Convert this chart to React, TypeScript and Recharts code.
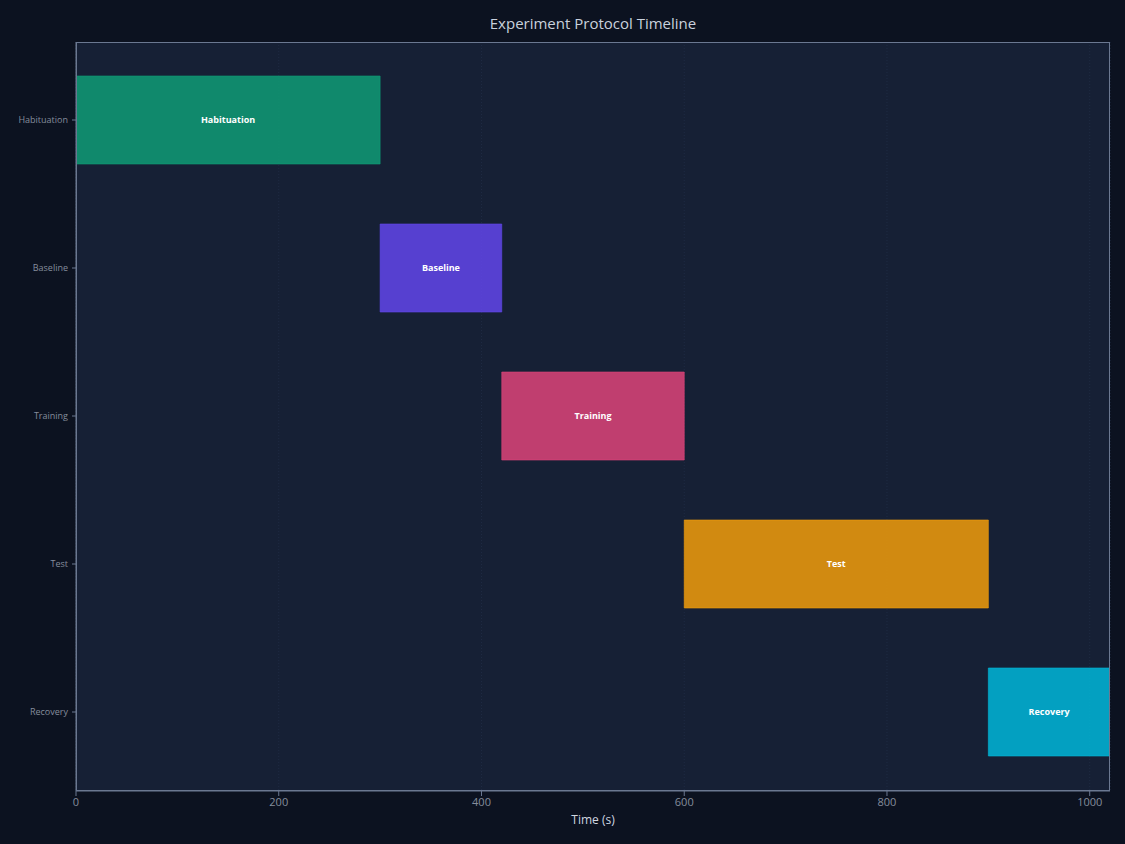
import { BarChart, Bar, XAxis, YAxis, CartesianGrid, Cell, LabelList } from 'recharts'

const phases = ['Habituation', 'Baseline', 'Training', 'Test', 'Recovery']
const starts = [0, 300, 420, 600, 900]
const ends = [300, 420, 600, 900, 1020]
const colors = ['#0f9c76', '#6147eb', '#de4479', '#f29d0a', '#00b7d9']
const xTicks = [0, 200, 400, 600, 800, 1000]

const data = phases.map((name, i) => ({ name, range: [starts[i], ends[i]] }))

const FONT = '"Open Sans", "Noto Sans", sans-serif'
const AXIS = '#6b7891'
const TICK = '#858d9c'

export default function App() {
  return (
    <div
      style={{
        position: 'fixed',
        top: 0,
        left: 0,
        width: 1125,
        height: 844,
        background: '#0c1220',
        fontFamily: FONT,
      }}
    >
      {/* title */}
      <div
        style={{
          position: 'absolute',
          top: 13,
          left: 76,
          width: 1034,
          textAlign: 'center',
          color: '#c9d1dd',
          fontSize: 15,
        }}
      >
        Experiment Protocol Timeline
      </div>
      <BarChart
        width={1125}
        height={844}
        data={data}
        layout="vertical"
        margin={{ top: 42, right: 15, left: 0, bottom: 0 }}
      >
        <CartesianGrid
          horizontal={false}
          fill="#162035"
          stroke="#1f2b43"
          strokeDasharray="1 2"
        />
        <XAxis
          type="number"
          domain={[0, 1020]}
          ticks={xTicks}
          allowDataOverflow
          tick={{ fill: TICK, fontSize: 11, fontFamily: FONT }}
          tickLine={{ stroke: AXIS }}
          axisLine={{ stroke: AXIS }}
          tickSize={5}
          height={53}
          label={{
            value: 'Time (s)',
            position: 'insideTop',
            offset: 24,
            fill: '#d0d6e0',
            fontSize: 12,
            fontFamily: FONT,
          }}
        />
        <YAxis
          type="category"
          dataKey="name"
          width={76}
          padding={{ top: 4, bottom: 5 }}
          tick={{ fill: TICK, fontSize: 9, fontFamily: FONT }}
          tickLine={{ stroke: AXIS }}
          axisLine={{ stroke: AXIS }}
          tickSize={4}
          tickMargin={4}
        />
        <Bar dataKey="range" barSize={88} isAnimationActive={false} fillOpacity={0.85}>
          {data.map((d, i) => (
            <Cell key={d.name} fill={colors[i]} stroke={colors[i]} strokeOpacity={0.6} strokeWidth={1} />
          ))}
          <LabelList
            dataKey="name"
            position="center"
            fill="#ffffff"
            fontSize={9}
            fontWeight="bold"
            fontFamily={FONT}
          />
        </Bar>
      </BarChart>
      {/* plot frame */}
      <div
        style={{
          position: 'absolute',
          left: 76,
          top: 42,
          width: 1034,
          height: 749,
          border: `1px solid ${AXIS}`,
          boxSizing: 'border-box',
          pointerEvents: 'none',
        }}
      />
    </div>
  )
}
